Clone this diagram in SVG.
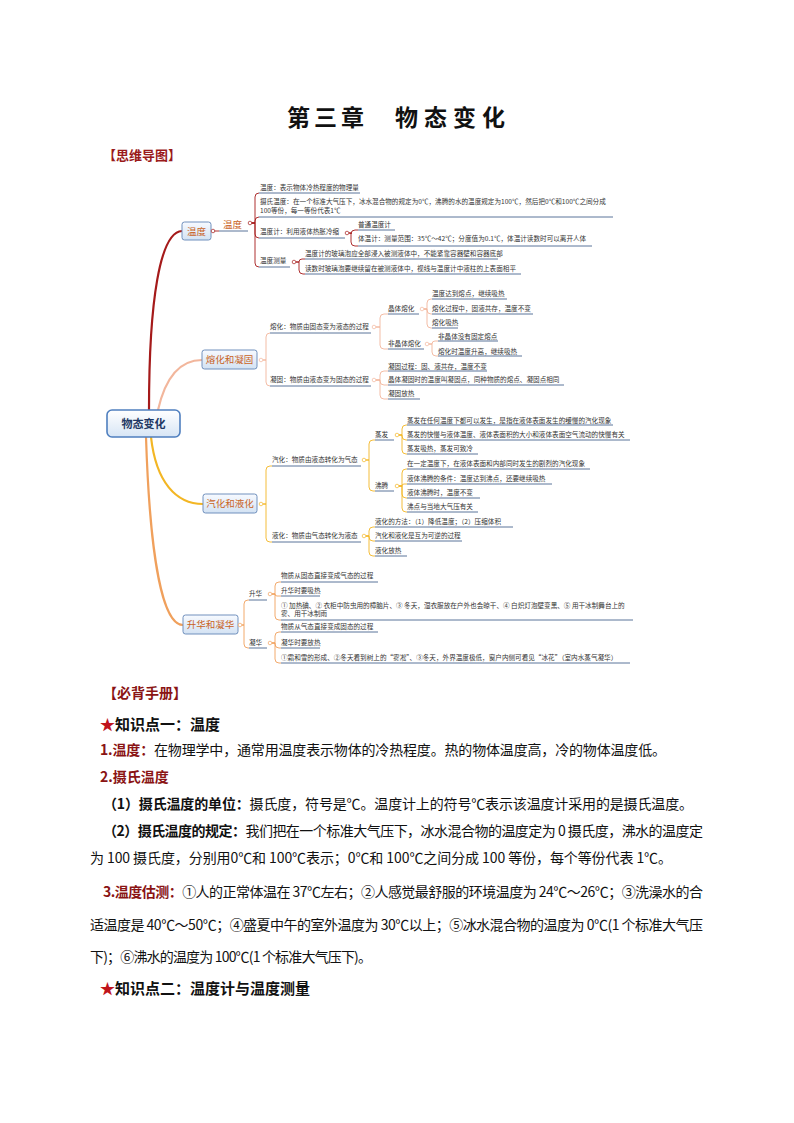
<svg xmlns="http://www.w3.org/2000/svg" width="794" height="1123" viewBox="0 0 794 1123">
<defs>
<linearGradient id="gn" x1="0" y1="0" x2="0" y2="1"><stop offset="0" stop-color="#f7faff"/><stop offset="1" stop-color="#d3e2f3"/></linearGradient>
<linearGradient id="gc" x1="0" y1="0" x2="0" y2="1"><stop offset="0" stop-color="#ffffff"/><stop offset="1" stop-color="#d7e5f5"/></linearGradient>
<style>
.cjk{font-family:"Noto Sans CJK SC","Noto Sans",sans-serif}
.t{font-family:"Noto Sans CJK SC","Noto Sans",sans-serif;font-size:6.6px;fill:#333}
.nt{font-family:"Noto Sans CJK SC","Noto Sans",sans-serif;font-size:9.5px;fill:#c9621c;text-anchor:middle}
.nb{fill:url(#gn);stroke:#7090bd;stroke-width:1}
.u{stroke:#48658f;stroke-width:0.9;fill:none}
.c1{stroke:#a51a1a;fill:none;stroke-width:0.9}
.c2{stroke:#f2b69c;fill:none;stroke-width:0.9}
.c3{stroke:#f3b624;fill:none;stroke-width:0.9}
.c4{stroke:#f0a05c;fill:none;stroke-width:0.9}
.d1{fill:#fff;stroke:#a51a1a;stroke-width:0.7}
.d2{fill:#fff;stroke:#f2b69c;stroke-width:0.7}
.d3{fill:#fff;stroke:#f3b624;stroke-width:0.7}
.d4{fill:#fff;stroke:#f0a05c;stroke-width:0.7}
.b{font-family:"Noto Sans CJK SC","Noto Sans",sans-serif;font-size:14px;fill:#111}
.bh{font-weight:bold;fill:#111}
.rd{font-weight:bold;fill:#8a1414}
.red{font-family:"Noto Sans CJK SC","Noto Sans",sans-serif;font-size:14px;font-weight:bold;fill:#8a1414}
</style>
</defs>
<rect width="794" height="1123" fill="#fff"/>

<!-- title -->
<text x="287" y="126" class="cjk" font-size="23" font-weight="bold" fill="#111" letter-spacing="4">第三章</text>
<text x="395" y="126" class="cjk" font-size="23" font-weight="bold" fill="#111" letter-spacing="6">物态变化</text>
<text x="103" y="160" class="cjk" font-size="13" font-weight="bold" fill="#9a1a1a">【思维导图】</text>

<!-- connectors -->
<g id="connectors">
<path d="M149,410 C149,300 160,232 182,231" stroke="#a51a1a" stroke-width="2.2" fill="none"/>
<path d="M158,410 C166,375 182,360 202,360" stroke="#f2b69c" stroke-width="2.2" fill="none"/>
<path d="M151,437 C156,482 176,504 203,504" stroke="#f3b624" stroke-width="2.2" fill="none"/>
<path d="M146,437 C150,560 163,625 183,625" stroke="#f0a05c" stroke-width="2.2" fill="none"/>

<path class="c1" d="M213,231 H219"/>
<path class="c1" d="M251,223 H255 V197 Q255,193 259,193"/>
<path class="c1" d="M251,223 H255 V221 Q255,217 259,217"/>
<path class="c1" d="M251,223 H255 V234 Q255,238 259,238"/>
<path class="c1" d="M251,223 H255 V263 Q255,267 259,267"/>
<path class="c1" d="M349,233 H351 V234 Q351,230 355,230 H358"/>
<path class="c1" d="M349,233 H351 V242 Q351,246 355,246 H358"/>
<path class="c1" d="M296,262 H299 V262 Q299,259 302,259 H305"/>
<path class="c1" d="M296,262 H299 V270 Q299,274 303,274 H305"/>

<path class="c2" d="M263,360 H266 V337 Q266,333 270,333"/>
<path class="c2" d="M263,360 H266 V382 Q266,386 270,386"/>
<path class="c2" d="M376,327 H380 V318 Q380,314 384,314 H388"/>
<path class="c2" d="M376,327 H380 V345 Q380,349 384,349 H388"/>
<path class="c2" d="M424,309 H427 V303 Q427,299 431,299 H432"/>
<path class="c2" d="M424,309 H427 V310 Q427,314 431,314 H432"/>
<path class="c2" d="M424,309 H427 V324 Q427,328 431,328 H432"/>
<path class="c2" d="M429,344 H432 V344 Q432,341 435,341 H438"/>
<path class="c2" d="M429,344 H432 V352 Q432,356 436,356 H438"/>
<path class="c2" d="M376,380 H380 V375 Q380,371 384,371 H388"/>
<path class="c2" d="M376,380 H380 V381 Q380,385 384,385 H388"/>
<path class="c2" d="M376,380 H380 V395 Q380,399 384,399 H388"/>

<path class="c3" d="M263,504 H266 V470 Q266,466 270,466 H272"/>
<path class="c3" d="M263,504 H266 V538 Q266,542 270,542 H272"/>
<path class="c3" d="M366,460 H369 V444 Q369,440 373,440 H375"/>
<path class="c3" d="M366,460 H369 V487 Q369,491 373,491 H375"/>
<path class="c3" d="M399,435 H402 V429 Q402,425 406,425 H407"/>
<path class="c3" d="M399,435 H402 V436 Q402,440 406,440 H407"/>
<path class="c3" d="M399,435 H402 V450 Q402,454 406,454 H407"/>
<path class="c3" d="M399,486 H402 V473 Q402,469 406,469 H407"/>
<path class="c3" d="M399,486 H402 V486 Q402,484 404,484 H407"/>
<path class="c3" d="M399,486 H402 V494 Q402,498 406,498 H407"/>
<path class="c3" d="M399,486 H402 V508 Q402,512 406,512 H407"/>
<path class="c3" d="M366,536 H369 V531 Q369,527 373,527 H375"/>
<path class="c3" d="M366,536 H369 V537 Q369,541 373,541 H375"/>
<path class="c3" d="M366,536 H369 V552 Q369,556 373,556 H375"/>

<path class="c4" d="M242,625 H244 V604 Q244,600 248,600 H249"/>
<path class="c4" d="M242,625 H244 V644 Q244,648 248,648 H249"/>
<path class="c4" d="M272,594 H275 V586 Q275,582 279,582 H281"/>
<path class="c4" d="M272,594 H275 V594 Q275,596 277,596 H281"/>
<path class="c4" d="M272,594 H275 V616 Q275,620 279,620 H281"/>
<path class="c4" d="M272,643 H275 V636 Q275,632 279,632 H281"/>
<path class="c4" d="M272,643 H275 V644 Q275,648 279,648 H281"/>
<path class="c4" d="M272,643 H275 V659 Q275,663 279,663 H281"/>
</g>

<!-- central -->
<g id="n-root">
<rect x="107" y="410" width="73" height="27" rx="5" fill="url(#gc)" stroke="#4f7fbf" stroke-width="1.6"/>
<text x="143.5" y="427.5" class="cjk" font-size="11" font-weight="bold" fill="#1f3864" text-anchor="middle">物态变化</text>
</g>

<!-- branch 1 -->
<g id="n-wendu-main">
<rect class="nb" x="182" y="222" width="29" height="18" rx="2.5"/>
<text class="nt" x="196.5" y="234.5">温度</text>
<circle class="d1" cx="213" cy="231" r="1.8"/>
</g>
<g id="n-wendu-sub">
<text x="223" y="228" class="cjk" font-size="9.5" fill="#c9621c">温度</text>
<path class="u" d="M219,231 H248"/>
<circle class="d1" cx="250" cy="223" r="1.8"/>
</g>
<g id="n-w1"><text class="t" x="260" y="190.4">温度：表示物体冷热程度的物理量</text><path class="u" d="M259,193 H360"/></g>
<g id="n-w2"><text class="t" x="260" y="204.4">摄氏温度：在一个标准大气压下，冰水混合物的规定为0℃，沸腾的水的温度规定为100℃，然后把0℃和100℃之间分成</text><text class="t" x="260" y="213.4">100等份，每一等份代表1℃</text><path class="u" d="M259,217 H613"/></g>
<g id="n-w3"><text class="t" x="260" y="234.4">温度计：利用液体热胀冷缩</text><path class="u" d="M259,238 H345"/><circle class="d1" cx="347" cy="233" r="1.8"/></g>
<g id="n-w31"><text class="t" x="358" y="227.4">普通温度计</text><path class="u" d="M358,230 H395"/></g>
<g id="n-w32"><text class="t" x="358" y="241.4">体温计：测量范围：35℃～42℃；分度值为0.1℃，体温计读数时可以离开人体</text><path class="u" d="M358,246 H592"/></g>
<g id="n-w4"><text class="t" x="260" y="263.4">温度测量</text><path class="u" d="M259,267 H290"/><circle class="d1" cx="294" cy="262" r="1.8"/></g>
<g id="n-w41"><text class="t" x="305" y="256.4">温度计的玻璃泡应全部浸入被测液体中，不能紧靠容器壁和容器底部</text><path class="u" d="M305,259 H498"/></g>
<g id="n-w42"><text class="t" x="305" y="271.4">读数时玻璃泡要继续留在被测液体中，视线与温度计中液柱的上表面相平</text><path class="u" d="M305,274 H521"/></g>

<!-- branch 2 -->
<g id="n-rh-main">
<rect class="nb" x="202" y="350" width="55" height="19" rx="2.5"/>
<text class="nt" x="229.5" y="363">熔化和凝固</text>
<circle class="d2" cx="261" cy="360" r="1.8"/>
</g>
<g id="n-rh1"><text class="t" x="270" y="329.4">熔化：物质由固态变为液态的过程</text><path class="u" d="M270,333 H371"/><circle class="d2" cx="374" cy="327" r="1.8"/></g>
<g id="n-rh11"><text class="t" x="388" y="311.4">晶体熔化</text><path class="u" d="M388,314 H419"/><circle class="d2" cx="422" cy="309" r="1.8"/></g>
<g id="n-rh111"><text class="t" x="432" y="296.4">温度达到熔点，继续吸热</text><path class="u" d="M432,299 H507"/></g>
<g id="n-rh112"><text class="t" x="432" y="311.4">熔化过程中，固液共存，温度不变</text><path class="u" d="M432,314 H533"/></g>
<g id="n-rh113"><text class="t" x="432" y="325.4">熔化吸热</text><path class="u" d="M432,328 H458"/></g>
<g id="n-rh12"><text class="t" x="388" y="346.4">非晶体熔化</text><path class="u" d="M388,349 H424"/><circle class="d2" cx="427" cy="344" r="1.8"/></g>
<g id="n-rh121"><text class="t" x="438" y="338.6">非晶体没有固定熔点</text><path class="u" d="M438,341 H498"/></g>
<g id="n-rh122"><text class="t" x="438" y="353.6">熔化时温度升高，继续吸热</text><path class="u" d="M438,356 H522"/></g>
<g id="n-rh2"><text class="t" x="270" y="382.4">凝固：物质由液态变为固态的过程</text><path class="u" d="M270,386 H371"/><circle class="d2" cx="374" cy="380" r="1.8"/></g>
<g id="n-rh21"><text class="t" x="388" y="368.6">凝固过程：固、液共存，温度不变</text><path class="u" d="M388,371 H487"/></g>
<g id="n-rh22"><text class="t" x="388" y="382.4">晶体凝固时的温度叫凝固点，同种物质的熔点、凝固点相同</text><path class="u" d="M388,385 H564"/></g>
<g id="n-rh23"><text class="t" x="388" y="396.4">凝固放热</text><path class="u" d="M388,399 H420"/></g>

<!-- branch 3 -->
<g id="n-qh-main">
<rect class="nb" x="203" y="494" width="54" height="19" rx="2.5"/>
<text class="nt" x="230" y="507">汽化和液化</text>
<circle class="d3" cx="261" cy="504" r="1.8"/>
</g>
<g id="n-qh1"><text class="t" x="272" y="462.4">汽化：物质由液态转化为气态</text><path class="u" d="M272,466 H361"/><circle class="d3" cx="364" cy="460" r="1.8"/></g>
<g id="n-qh11"><text class="t" x="375" y="437.4">蒸发</text><path class="u" d="M375,440 H394"/><circle class="d3" cx="397" cy="435" r="1.8"/></g>
<g id="n-qh111"><text class="t" x="407" y="422.6">蒸发在任何温度下都可以发生，是指在液体表面发生的缓慢的汽化现象</text><path class="u" d="M407,425 H613"/></g>
<g id="n-qh112"><text class="t" x="407" y="437.4">蒸发的快慢与液体温度、液体表面积的大小和液体表面空气流动的快慢有关</text><path class="u" d="M407,440 H630"/></g>
<g id="n-qh113"><text class="t" x="407" y="451.4">蒸发吸热，蒸发可致冷</text><path class="u" d="M407,454 H478"/></g>
<g id="n-qh12"><text class="t" x="375" y="488.4">沸腾</text><path class="u" d="M375,491 H394"/><circle class="d3" cx="397" cy="486" r="1.8"/></g>
<g id="n-qh121"><text class="t" x="407" y="466.4">在一定温度下，在液体表面和内部同时发生的剧烈的汽化现象</text><path class="u" d="M407,469 H590"/></g>
<g id="n-qh122"><text class="t" x="407" y="481.4">液体沸腾的条件：温度达到沸点，还要继续吸热</text><path class="u" d="M407,484 H552"/></g>
<g id="n-qh123"><text class="t" x="407" y="495.4">液体沸腾时，温度不变</text><path class="u" d="M407,498 H480"/></g>
<g id="n-qh124"><text class="t" x="407" y="509.4">沸点与当地大气压有关</text><path class="u" d="M407,512 H478"/></g>
<g id="n-qh2"><text class="t" x="272" y="538.4">液化：物质由气态转化为液态</text><path class="u" d="M272,542 H361"/><circle class="d3" cx="364" cy="536" r="1.8"/></g>
<g id="n-qh21"><text class="t" x="375" y="524.4">液化的方法：（1）降低温度；（2）压缩体积</text><path class="u" d="M375,527 H513"/></g>
<g id="n-qh22"><text class="t" x="375" y="538.4">汽化和液化是互为可逆的过程</text><path class="u" d="M375,541 H462"/></g>
<g id="n-qh23"><text class="t" x="375" y="553.4">液化放热</text><path class="u" d="M375,556 H407"/></g>

<!-- branch 4 -->
<g id="n-sh-main">
<rect class="nb" x="183" y="615" width="55" height="19" rx="2.5"/>
<text class="nt" x="210.5" y="628">升华和凝华</text>
<circle class="d4" cx="240" cy="625" r="1.8"/>
</g>
<g id="n-sh1"><text class="t" x="249" y="596.4">升华</text><path class="u" d="M249,600 H267"/><circle class="d4" cx="270" cy="594" r="1.8"/></g>
<g id="n-sh11"><text class="t" x="281" y="578.4">物质从固态直接变成气态的过程</text><path class="u" d="M281,582 H378"/></g>
<g id="n-sh12"><text class="t" x="281" y="593.4">升华时要吸热</text><path class="u" d="M281,596 H320"/></g>
<g id="n-sh13"><text class="t" x="281" y="608.4">① 加热碘、② 衣柜中防虫用的樟脑片、③ 冬天，湿衣服放在户外也会晾干、④ 白炽灯泡壁变黑、⑤ 用干冰制舞台上的</text><text class="t" x="281" y="616.4">雾、用干冰制雨</text><path class="u" d="M281,620 H633"/></g>
<g id="n-sh2"><text class="t" x="249" y="645.4">凝华</text><path class="u" d="M249,648 H267"/><circle class="d4" cx="270" cy="643" r="1.8"/></g>
<g id="n-sh21"><text class="t" x="281" y="629.4">物质从气态直接变成固态的过程</text><path class="u" d="M281,632 H378"/></g>
<g id="n-sh22"><text class="t" x="281" y="645.4">凝华时要放热</text><path class="u" d="M281,648 H320"/></g>
<g id="n-sh23"><text class="t" x="281" y="660.4">①霜和雪的形成、②冬天看到树上的“雾凇”、③冬天，外界温度极低，窗户内侧可看见“冰花”（室内水蒸气凝华）</text><path class="u" d="M281,663 H630"/></g>

<!-- body text -->
<text x="103" y="698" class="red">【必背手册】</text>
<text x="100" y="729.5" class="cjk" font-size="15" font-weight="bold" fill="#111"><tspan fill="#c0141b">★</tspan>知识点一：温度</text>
<text x="100" y="755" class="b" textLength="566" lengthAdjust="spacing"><tspan class="rd">1.温度：</tspan>在物理学中，通常用温度表示物体的冷热程度。热的物体温度高，冷的物体温度低。</text>
<text x="100" y="782" class="red">2.摄氏温度</text>
<text x="103" y="809" class="b" textLength="590" lengthAdjust="spacing"><tspan class="bh">（1）摄氏温度的单位：</tspan>摄氏度，符号是℃。温度计上的符号℃表示该温度计采用的是摄氏温度。</text>
<text x="103" y="836" class="b" textLength="600" lengthAdjust="spacing"><tspan class="bh">（2）摄氏温度的规定：</tspan>我们把在一个标准大气压下，冰水混合物的温度定为 0 摄氏度，沸水的温度定</text>
<text x="90" y="863" class="b" textLength="582" lengthAdjust="spacing">为 100 摄氏度，分别用0℃和 100℃表示；0℃和 100℃之间分成 100 等份，每个等份代表 1℃。</text>
<text x="103" y="897" class="b" textLength="600" lengthAdjust="spacing"><tspan class="rd">3.温度估测：</tspan>①人的正常体温在 37℃左右；②人感觉最舒服的环境温度为 24℃～26℃；③洗澡水的合</text>
<text x="90" y="930" class="b" textLength="613" lengthAdjust="spacing">适温度是 40℃～50℃；④盛夏中午的室外温度为 30℃以上；⑤冰水混合物的温度为 0℃(1 个标准大气压</text>
<text x="90" y="962" class="b" textLength="282" lengthAdjust="spacing">下)；⑥沸水的温度为 100℃(1 个标准大气压下)。</text>
<text x="100" y="993.5" class="cjk" font-size="15" font-weight="bold" fill="#111"><tspan fill="#c0141b">★</tspan>知识点二：温度计与温度测量</text>
</svg>
